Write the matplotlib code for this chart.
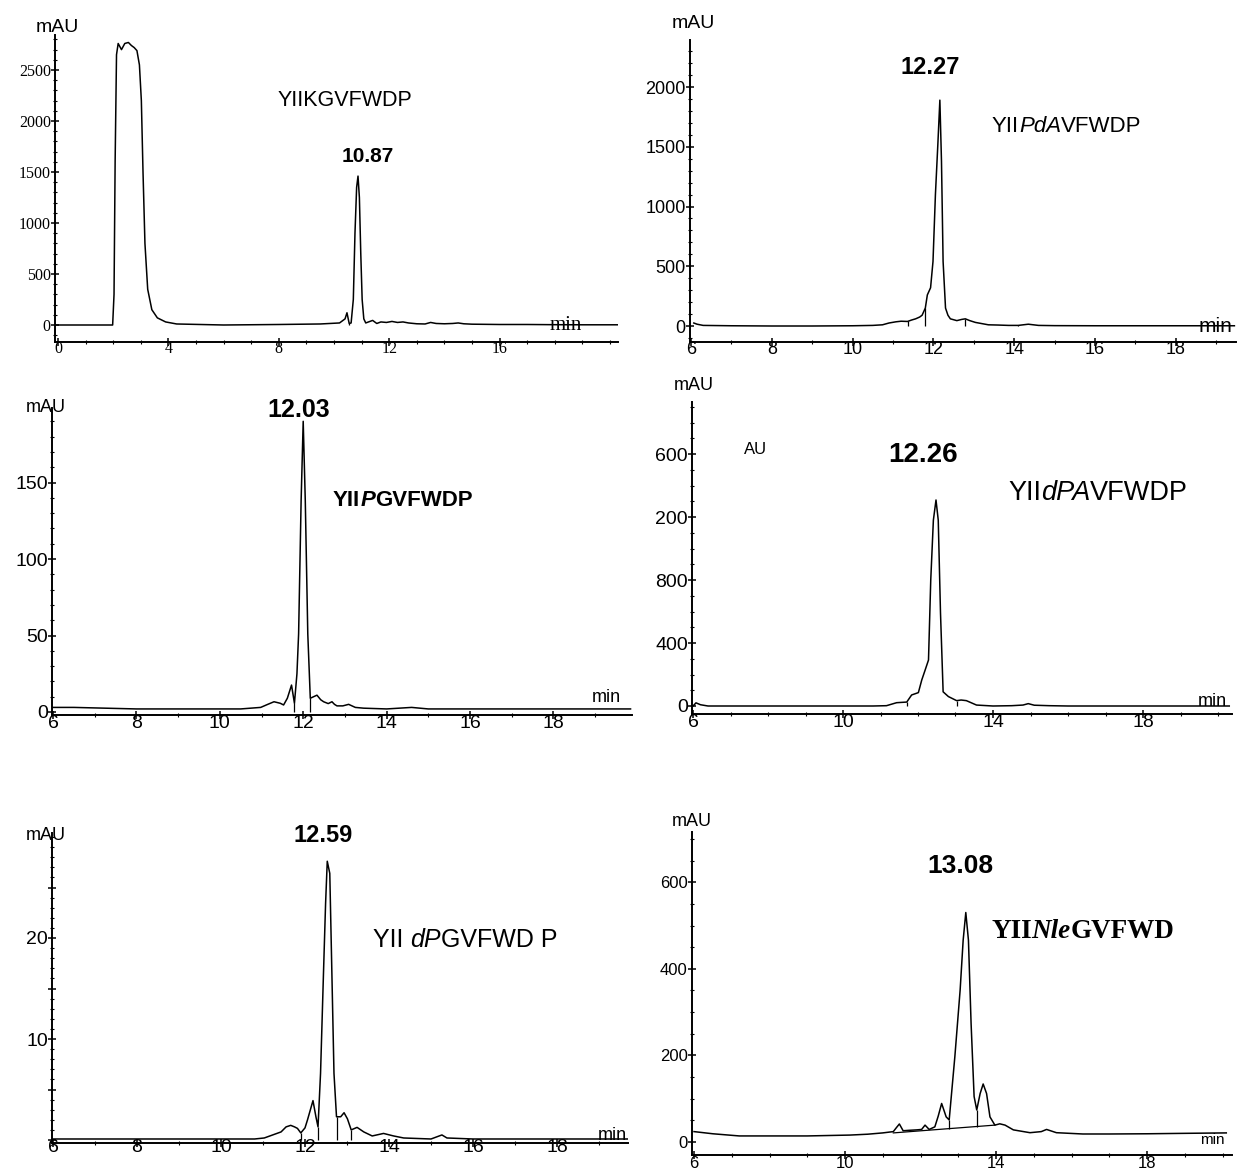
import numpy as np
import matplotlib
matplotlib.use("Agg")
import matplotlib.pyplot as plt
from matplotlib.ticker import MultipleLocator, FixedLocator

W, H = 1238, 1170

# ---------------- data (retention time in min, signal in mAU) ----------------
p1_t = [-0.1, 1.0, 1.98, 2.03, 2.07, 2.12, 2.18, 2.3, 2.42, 2.55, 2.66, 2.76, 2.86, 2.95, 3.02,
        3.08, 3.15, 3.25, 3.4, 3.6, 3.9, 4.3, 6.0, 8.0, 9.5, 10.2, 10.4, 10.47, 10.55, 10.62,
        10.7, 10.76, 10.82, 10.87, 10.92, 10.97, 11.02, 11.08, 11.15, 11.25, 11.4, 11.55, 11.7, 11.9,
        12.1, 12.3, 12.5, 12.7, 13.0, 13.3, 13.5, 13.7, 14.0, 14.3, 14.5, 14.7, 15.0, 16.0, 17.0,
        18.0, 19.0, 20.3]
p1_v = [0, 0, 0, 300, 1600, 2650, 2760, 2700, 2760, 2770, 2740, 2720, 2690, 2550, 2200,
        1500, 800, 350, 150, 70, 30, 10, 0, 5, 10, 20, 60, 120, 15, 20,
        250, 900, 1350, 1460, 1250, 700, 250, 60, 20, 30, 45, 15, 30, 25,
        35, 25, 30, 20, 12, 10, 25, 15, 12, 15, 20, 12, 8, 5, 5,
        3, 2, 2]
p1_drops = [10.55]

p2_t = [6.07, 6.15, 6.3, 7, 8, 9, 10, 10.5, 10.74, 10.9, 11.07, 11.2, 11.36, 11.46, 11.56, 11.66,
        11.72, 11.8, 11.85, 11.93, 11.99, 12.05, 12.11, 12.16, 12.2, 12.24, 12.3, 12.36, 12.42,
        12.58, 12.7, 12.79, 12.9, 13.04, 13.2, 13.36, 13.6, 13.86, 14.1, 14.35, 14.6, 15, 16, 17,
        18, 19.45]
p2_v = [25, 15, 5, 2, 0, 0, 2, 5, 10, 25, 35, 40, 38, 50, 60, 75,
        90, 150, 260, 320, 540, 1100, 1520, 1890, 1380, 540, 150, 90, 60,
        45, 55, 60, 45, 30, 20, 10, 8, 5, 5, 15, 5, 3, 2, 2,
        2, 2]
p2_drops = [11.36, 11.8, 12.79, 14.1]

p3_t = [6, 6.5, 8, 10, 10.5, 10.98, 11.15, 11.3, 11.45, 11.53, 11.62, 11.72, 11.79, 11.85, 11.89,
        11.95, 12.0, 12.05, 12.11, 12.17, 12.25, 12.33, 12.42, 12.49, 12.6, 12.69, 12.75, 12.81,
        12.95, 13.09, 13.25, 13.45, 14, 14.6, 15, 16, 18, 19.85]
p3_v = [3, 3, 2, 2, 2, 3, 5, 6.7, 5.7, 4.6, 9, 17.6, 5.7, 25, 51,
        138, 190, 138, 51, 9, 10, 11, 8, 6.7, 5.5, 6.7, 5, 4,
        4, 5, 3, 2.5, 2, 3, 2, 2, 2, 2]
p3_drops = [11.79, 12.17]

p4_t = [6.0, 6.08, 6.2, 6.4, 7, 8, 9, 10, 10.8, 11.16, 11.43, 11.7, 11.83, 12.01, 12.1, 12.19,
        12.28, 12.34, 12.41, 12.48, 12.54, 12.6, 12.67, 12.81, 13.03, 13.15, 13.29, 13.56, 14.0,
        14.5, 14.8, 14.94, 15.1, 15.5, 16, 17, 18, 19, 20.3]
p4_v = [0, 20, 8, 0, 0, 0, 0, 0, 0, 2, 21, 25, 70, 85, 165, 228,
        292, 800, 1180, 1308, 1180, 590, 90, 60, 34, 38, 34, 6, 0,
        2, 6, 15, 5, 2, 0, 0, 0, 0, 0]
p4_drops = [11.7, 13.03]

p5_t = [6, 8, 10, 10.8, 11.03, 11.23, 11.43, 11.55, 11.66, 11.75, 11.82, 11.9, 12.0, 12.06, 12.19,
        12.26, 12.31, 12.37, 12.44, 12.49, 12.53, 12.59, 12.64, 12.69, 12.75, 12.85, 12.93, 13.01,
        13.1, 13.24, 13.4, 13.6, 13.87, 14.11, 14.35, 15.0, 15.26, 15.38, 16, 18, 19.8]
p5_v = [0.1, 0.1, 0.1, 0.1, 0.2, 0.5, 0.8, 1.3, 1.45, 1.3, 1.15, 0.7, 1.2, 2.0, 3.9,
        2.3, 1.3, 6.6, 16.5, 23.4, 27.6, 26.4, 16.5, 6.6, 2.3, 2.3, 2.7, 2.1,
        1.0, 1.25, 0.8, 0.4, 0.65, 0.4, 0.2, 0.1, 0.5, 0.2, 0.1, 0.1, 0.1]
p5_drops = [11.9, 12.31, 12.75, 13.1]

p6_t = [6, 6.5, 7.2, 8, 9, 10.13, 10.6, 11.0, 11.28, 11.36, 11.44, 11.54, 11.7, 11.9, 12.03,
        12.12, 12.23, 12.38, 12.47, 12.56, 12.68, 12.76, 12.91, 13.05, 13.13, 13.2, 13.27, 13.34,
        13.42, 13.49, 13.58, 13.66, 13.75, 13.84, 13.97, 14.1, 14.24, 14.46, 14.9, 15.2, 15.34,
        15.6, 16.3, 17, 18, 19, 20.1]
p6_v = [24, 19, 14, 14, 14, 16, 18, 21, 24, 33, 41.6, 26, 27, 28, 29,
        39, 29, 35, 60, 89, 58, 51, 197, 351, 466, 530, 466, 274,
        105, 74, 112, 134, 112, 58, 39, 42, 39, 28, 21.5, 24, 29,
        21.5, 18.5, 18.5, 19, 20, 21]
p6_base_t = [11.28, 13.97]
p6_base_v = [21, 39]
p6_drops = [12.76, 13.49]

# tick values / labels
p1_xticks, p1_xlabels = [0, 4, 8, 12, 16], ["0", "4", "8", "12", "16"]
p1_yticks, p1_ylabels = [0, 500, 1000, 1500, 2000, 2500], ["0", "500", "1000", "1500", "2000", "2500"]
p2_xticks, p2_xlabels = [6, 8, 10, 12, 14, 16, 18], ["6", "8", "10", "12", "14", "16", "18"]
p2_yticks, p2_ylabels = [0, 500, 1000, 1500, 2000], ["0", "500", "1000", "1500", "2000"]
p3_xticks, p3_xlabels = [6, 8, 10, 12, 14, 16, 18], ["6", "8", "10", "12", "14", "16", "18"]
p3_yticks, p3_ylabels = [0, 50, 100, 150], ["0", "50", "100", "150"]
p4_xticks, p4_xlabels = [6, 10, 14, 18], ["6", "10", "14", "18"]
p4_yticks, p4_ylabels = [0, 400, 800, 1200, 1600], ["0", "400", "800", "200", "600"]
p5_xticks, p5_xlabels = [6, 8, 10, 12, 14, 16, 18], ["6", "8", "10", "12", "14", "16", "18"]
p5_yticks, p5_ylabels = [0, 5, 10, 15, 20, 25], ["", "", "10", "", "20", ""]
p6_xticks, p6_xlabels = [6, 10, 14, 18], ["6", "10", "14", "18"]
p6_yticks, p6_ylabels = [0, 200, 400, 600], ["0", "200", "400", "600"]

# ---------------- layout ----------------
plt.rcParams['font.family'] = ['Liberation Sans', 'DejaVu Sans']
fig = plt.figure(figsize=(W / 100, H / 100), dpi=100)
fig.patch.set_facecolor('white')

panels = [
    dict(t=p1_t, v=p1_v, drops=p1_drops, x0=58, t0=0, sx=27.6, y0=325, sy=0.102,
         box=(55, 35, 618, 342), xt=(p1_xticks, p1_xlabels), yt=(p1_yticks, p1_ylabels),
         xmin=1, ymin=100, fam='Liberation Serif', fs=11.5, xpad=-4),
    dict(t=p2_t, v=p2_v, drops=p2_drops, x0=691, t0=6, sx=40.4, y0=326, sy=0.1195,
         box=(690, 40, 1236, 342), xt=(p2_xticks, p2_xlabels), yt=(p2_yticks, p2_ylabels),
         xmin=1, ymin=100, fam='Liberation Sans', fs=13, xpad=-4),
    dict(t=p3_t, v=p3_v, drops=p3_drops, x0=53, t0=6, sx=41.7, y0=712, sy=1.53,
         box=(52, 408, 632, 715), xt=(p3_xticks, p3_xlabels), yt=(p3_yticks, p3_ylabels),
         xmin=1, ymin=10, fam='Liberation Sans', fs=14, xpad=-3),
    dict(t=p4_t, v=p4_v, drops=p4_drops, x0=693, t0=6, sx=37.5, y0=706, sy=0.1575,
         box=(692, 402, 1232, 714), xt=(p4_xticks, p4_xlabels), yt=(p4_yticks, p4_ylabels),
         xmin=1, ymin=100, fam='Liberation Sans', fs=14, xpad=-3),
    dict(t=p5_t, v=p5_v, drops=p5_drops, x0=53, t0=6, sx=42.0, y0=1140, sy=10.1,
         box=(52, 833, 628, 1143), xt=(p5_xticks, p5_xlabels), yt=(p5_yticks, p5_ylabels),
         xmin=1, ymin=1, fam='Liberation Sans', fs=14, xpad=-6),
    dict(t=p6_t, v=p6_v, drops=p6_drops, x0=694, t0=6, sx=37.75, y0=1142, sy=0.433,
         box=(692, 832, 1232, 1155), xt=(p6_xticks, p6_xlabels), yt=(p6_yticks, p6_ylabels),
         xmin=1, ymin=50, fam='Liberation Sans', fs=12, xpad=-2,
         base=(p6_base_t, p6_base_v)),
]

for p in panels:
    L, T, R, B = p['box']
    ax = fig.add_axes([L / W, 1 - B / H, (R - L) / W, (B - T) / H])
    ax.set_xlim(p['t0'] + (L - p['x0']) / p['sx'], p['t0'] + (R - p['x0']) / p['sx'])
    ax.set_ylim((p['y0'] - B) / p['sy'], (p['y0'] - T) / p['sy'])
    ax.patch.set_alpha(0)
    ax.plot(p['t'], p['v'], color='black', lw=1.1, solid_joinstyle='round')
    if 'base' in p:
        bt, bv = p['base']
        ax.plot(bt, bv, color='black', lw=0.9)
    for d in p['drops']:
        top = np.interp(d, p['t'], p['v'])
        bot = np.interp(d, p['base'][0], p['base'][1]) if 'base' in p else 0
        ax.vlines(d, bot, top, color='black', lw=0.9)
    for s in ('top', 'right'):
        ax.spines[s].set_visible(False)
    for s in ('left', 'bottom'):
        ax.spines[s].set_linewidth(1.4)
    ax.xaxis.set_major_locator(FixedLocator(p['xt'][0]))
    ax.set_xticklabels(p['xt'][1], family=p['fam'], fontsize=p['fs'])
    ax.yaxis.set_major_locator(FixedLocator(p['yt'][0]))
    ax.set_yticklabels(p['yt'][1], family=p['fam'], fontsize=p['fs'])
    ax.xaxis.set_minor_locator(MultipleLocator(p['xmin']))
    ax.yaxis.set_minor_locator(MultipleLocator(p['ymin']))
    ax.tick_params(axis='both', which='major', direction='inout', length=6, width=1.1)
    ax.tick_params(axis='both', which='minor', direction='inout', length=3, width=0.8)
    ax.tick_params(axis='x', which='major', pad=p['xpad'])
    ax.tick_params(axis='y', which='major', pad=0)

# ---------------- text ----------------
ov = fig.add_axes([0, 0, 1, 1])
ov.axis('off')
ov.set_xlim(0, 1)
ov.set_ylim(0, 1)


def put(x, y, s, size, weight='normal', family='Liberation Sans', ha='center', style='normal'):
    return ov.text(x / W, 1 - y / H, s, fontsize=size, fontweight=weight, family=family,
                   ha=ha, va='center', style=style)


def chain(x, y, pieces, size, weight='normal', family='Liberation Sans'):
    prev = None
    for s, st in pieces:
        if prev is None:
            prev = ov.text(x / W, 1 - y / H, s, fontsize=size, fontweight=weight, family=family,
                           style=st, ha='left', va='center')
        else:
            prev = ov.annotate(s, xy=(1, 0), xycoords=prev, fontsize=size, fontweight=weight,
                               family=family, style=st, ha='left', va='bottom')


# mAU axis titles
put(57, 27, "mAU", 14)
put(693, 23, "mAU", 14)
put(46, 407, "mAU", 13)
put(694, 386, "mAU", 13)
put(46, 835, "mAU", 13)
put(692, 822, "mAU", 13)

# min labels
put(566, 326, "min", 15, family='Liberation Serif')
put(1215, 326, "min", 15)
put(606, 697, "min", 13)
put(1212, 702, "min", 13)
put(612, 1135, "min", 13)
put(1212, 1140, "min", 11)

# peak labels
put(368, 157, "10.87", 15, weight='bold')
put(930, 68, "12.27", 17, weight='bold')
put(299, 410, "12.03", 18, weight='bold')
put(923, 455, "12.26", 20, weight='bold')
put(323, 835, "12.59", 17, weight='bold')
put(960, 866, "13.08", 19, weight='bold')
put(756, 450, "AU", 12)

# compound names
put(345, 100, "YIIKGVFWDP", 15.5)
chain(992, 127, [("YII", 'normal'), ("PdA", 'italic'), ("VFWDP", 'normal')], 16)
chain(333, 500, [("YII", 'normal'), ("P", 'italic'), ("GVFWDP", 'normal')], 16, weight='bold')
chain(1008, 493, [("YII", 'normal'), ("dPA", 'italic'), ("VFWDP", 'normal')], 19.5)
chain(373, 940, [("YII ", 'normal'), ("dP", 'italic'), ("GVFWD P", 'normal')], 18)
chain(991, 932, [("YII", 'normal'), ("Nle", 'italic'), ("GVFWD", 'normal')], 19.5,
      weight='bold', family='Liberation Serif')

fig.savefig("out.png", dpi=100, facecolor='white')
